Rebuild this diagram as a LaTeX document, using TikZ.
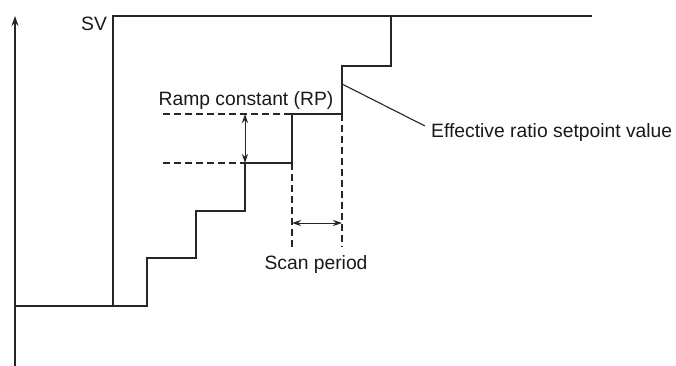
\documentclass[tikz,border=0pt]{standalone}
\usepackage{fontspec}
\setmainfont{Liberation Sans}
\usetikzlibrary{arrows.meta}
\begin{document}
\begin{tikzpicture}[x=1pt,y=-1pt,
  line/.style={line width=1.3pt,draw=black!85},
  dashline/.style={line width=1.2pt,draw=black!85,dash pattern=on 7pt off 4pt},
  dimline/.style={line width=1pt,draw=black!85,{Stealth[length=9pt,width=6pt]}-{Stealth[length=9pt,width=6pt]}},
  lbl/.style={font=\fontsize{19.3}{21}\selectfont,text=black!90,inner sep=0pt}]
\useasboundingbox (0,0) rectangle (676,366);
% axis
\coordinate (a0) at (15,366);
\coordinate (a1) at (15,16);
\draw[line,-{Stealth[length=10pt,width=7pt]}] (a0) -- (a1);
% SV
\coordinate (b0) at (15,306);
\coordinate (sv0) at (113,306);
\coordinate (sv1) at (113,16);
\coordinate (sv2) at (592,16);
\draw[line] (sv0) -- (sv1) -- (sv2);
% staircase
\coordinate (s1) at (147,306);
\coordinate (s2) at (147,258);
\coordinate (s3) at (196,258);
\coordinate (s4) at (196,211);
\coordinate (s5) at (245,211);
\coordinate (s6) at (245,163);
\coordinate (s7) at (292,163);
\coordinate (s8) at (292,114);
\coordinate (s9) at (342,114);
\coordinate (s10) at (342,66);
\coordinate (s11) at (391,66);
\coordinate (s12) at (391,16);
\draw[line] (b0) -- (s1) -- (s2) -- (s3) -- (s4) -- (s5) -- (s6) -- (s7) -- (s8) -- (s9) -- (s10) -- (s11) -- (s12);
% dashed guides
\coordinate (d1) at (163,114);
\coordinate (d2) at (163,163);
\draw[dashline] (d1) -- (s8);
\draw[dashline] (d2) -- (s6);
\coordinate (v1) at (292,247);
\coordinate (v2) at (342,247);
\draw[dashline] (s7) -- (v1);
\draw[dashline] (s9) -- (v2);
% dimension arrows
\coordinate (r1) at (245,114);
\draw[dimline] (r1) -- (s6);
\coordinate (h1) at (292,223);
\coordinate (h2) at (342,223);
\draw[dimline] (h1) -- (h2);
% labels
\node[lbl] (svl) at (94,24) {SV};
\node[lbl] (rp) at (246,101) {Ramp constant (RP)};
\node[lbl] (sp) at (316,265) {Scan period};
\node[lbl,anchor=west] (eff) at (431,133) {Effective ratio setpoint value};
\coordinate (e0) at (342,84);
\coordinate (e1) at (425,126);
\draw[line,line width=1.1pt] (e0) -- (e1);
\end{tikzpicture}
\end{document}
